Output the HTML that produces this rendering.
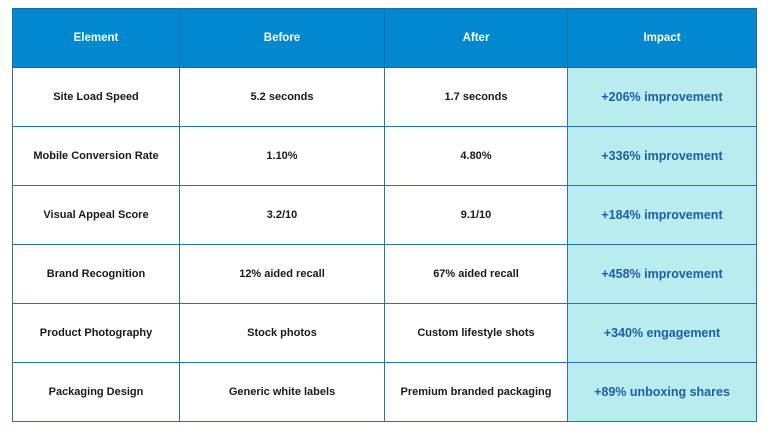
<!DOCTYPE html>
<html><head><style>
body{margin:0;width:768px;height:432px;background:#fff;font-family:"Liberation Sans",sans-serif;}
table{position:absolute;left:12px;top:8px;border-collapse:collapse;table-layout:fixed;}
td,th{border:1.5px solid #2b6fab;text-align:center;padding:0;font-size:11px;font-weight:bold;color:#1a1a1a;height:58px;}
th{background:#0288d1;color:#fff;font-size:11.5px;border-color:#1f6aa5;height:58px;}
td.i{background:#b9ecee;color:#1d5ea8;font-size:12.5px;}
</style></head><body>
<table>
<colgroup><col style="width:167px"><col style="width:205px"><col style="width:183px"><col style="width:189px"></colgroup>
<tr><th>Element</th><th>Before</th><th>After</th><th>Impact</th></tr>
<tr><td>Site Load Speed</td><td>5.2 seconds</td><td>1.7 seconds</td><td class="i">+206% improvement</td></tr>
<tr><td>Mobile Conversion Rate</td><td>1.10%</td><td>4.80%</td><td class="i">+336% improvement</td></tr>
<tr><td>Visual Appeal Score</td><td>3.2/10</td><td>9.1/10</td><td class="i">+184% improvement</td></tr>
<tr><td>Brand Recognition</td><td>12% aided recall</td><td>67% aided recall</td><td class="i">+458% improvement</td></tr>
<tr><td>Product Photography</td><td>Stock photos</td><td>Custom lifestyle shots</td><td class="i">+340% engagement</td></tr>
<tr><td>Packaging Design</td><td>Generic white labels</td><td>Premium branded packaging</td><td class="i">+89% unboxing shares</td></tr>
</table>
</body></html>
